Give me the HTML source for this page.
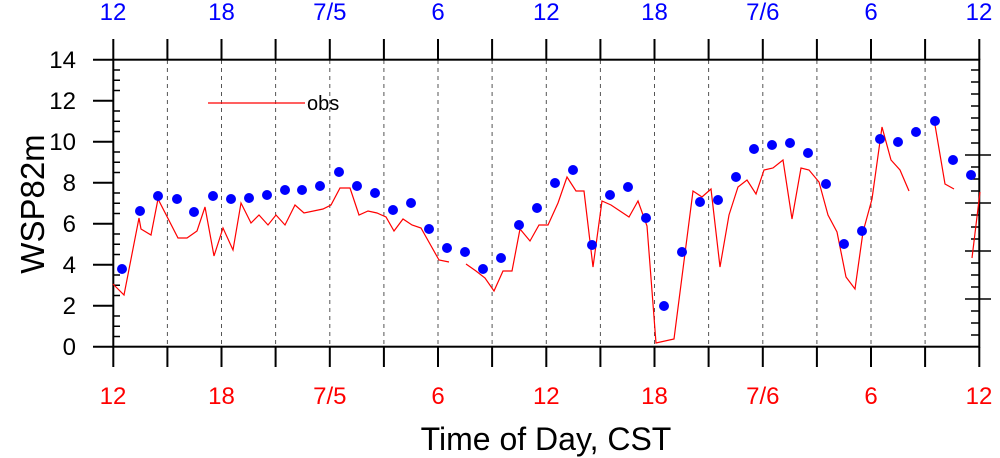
<!DOCTYPE html>
<html><head><style>body{margin:0;background:#fff}svg{display:block}</style></head><body>
<svg width="1000" height="458" xmlns="http://www.w3.org/2000/svg" font-family="Liberation Sans, sans-serif">
<rect width="1000" height="458" fill="#fff"/>
<g id="grid" stroke="#555" stroke-width="1" stroke-dasharray="4,4">
<line x1="167.4" y1="60" x2="167.4" y2="347"/><line x1="221.5" y1="60" x2="221.5" y2="347"/><line x1="275.6" y1="60" x2="275.6" y2="347"/><line x1="329.8" y1="60" x2="329.8" y2="347"/><line x1="383.9" y1="60" x2="383.9" y2="347"/><line x1="438" y1="60" x2="438" y2="347"/><line x1="492.1" y1="60" x2="492.1" y2="347"/><line x1="546.3" y1="60" x2="546.3" y2="347"/><line x1="600.4" y1="60" x2="600.4" y2="347"/><line x1="654.5" y1="60" x2="654.5" y2="347"/><line x1="708.6" y1="60" x2="708.6" y2="347"/><line x1="762.8" y1="60" x2="762.8" y2="347"/><line x1="816.9" y1="60" x2="816.9" y2="347"/><line x1="871" y1="60" x2="871" y2="347"/><line x1="925.1" y1="60" x2="925.1" y2="347"/>
</g>
<g stroke="#000" stroke-width="2">
<path d="M113.3,347V367M167.4,347V367M221.5,347V367M275.6,347V367M329.8,347V367M383.9,347V367M438,347V367M492.1,347V367M546.3,347V367M600.4,347V367M654.5,347V367M708.6,347V367M762.8,347V367M816.9,347V367M871,347V367M925.1,347V367M979.3,347V367"/>
<path d="M113.3,60V39M167.4,60V39M221.5,60V39M275.6,60V39M329.8,60V39M383.9,60V39M438,60V39M492.1,60V39M546.3,60V39M600.4,60V39M654.5,60V39M708.6,60V39M762.8,60V39M816.9,60V39M871,60V39M925.1,60V39M979.3,60V39"/>
<path d="M113,346.7h-20M113,305.7h-20M113,264.7h-20M113,223.7h-20M113,182.7h-20M113,141.7h-20M113,100.7h-20M113,59.7h-20"/>
</g>
<g stroke="#000" stroke-width="1.5">
<path d="M113,336.5h7M113,326.2h7M113,316h7M113,295.5h7M113,285.2h7M113,275h7M113,254.5h7M113,244.2h7M113,234h7M113,213.5h7M113,203.2h7M113,193h7M113,172.5h7M113,162.2h7M113,152h7M113,131.5h7M113,121.2h7M113,111h7M113,90.5h7M113,80.2h7M113,70h7"/>
<path d="M979,70h-8M979,82h-8M979,94h-8M979,106h-8M979,118h-8M979,130h-8M979,143h-8M979,167h-8M979,179h-8M979,191h-8M979,215h-8M979,227h-8M979,239h-8M979,263h-8M979,275h-8M979,287h-8M979,311h-8M979,323h-8M979,335h-8"/>
<path d="M979,155h-14M979,203h-14M979,251h-14M979,299h-14M979,155h12M979,203h12M979,251h12M979,299h12"/>
</g>
<rect x="113.3" y="59.7" width="866" height="287" fill="none" stroke="#000" stroke-width="2"/>
<g fill="none" stroke="#f00" stroke-width="1.2">
<polyline points="113,284 124,295 139,218 141,229 151,235 158,199 178,238 187,238 197,231 205,207 214,256 223,228 233,250 241,203 251,223 259,215 268,225 276,215 285,225 295,205 304,213 323,209 331,205 340,188 350,188 359,215 368,211 377,213 386,217 394,231 403,219 412,225 421,228 439,260 449,262"/>
<polyline points="466,264 476,271 485,278 494,291 503,271 512,271 520,229 530,241 539,225 548,225 558,203 567,177 576,191 584,191 593,267 602,201 611,205 629,217 638,201 647,226 656,343 674,339 693,191 702,197 711,189 720,267 729,215 738,187 747,180 756,194 764,170 773,168 783,160 792,219 801,168 809,170 819,182 828,215 837,232 846,277 855,289 863,232 872,199 882,127 891,160 900,170 909,191"/>
<polyline points="935,125 945,184 954,189"/>
<polyline points="972,258 980,192"/>
<line x1="208" y1="103" x2="305" y2="103"/>
</g>
<g fill="#0000ff">
<circle cx="122" cy="269" r="5"/><circle cx="140" cy="211" r="5"/><circle cx="158" cy="196" r="5"/><circle cx="177" cy="199" r="5"/><circle cx="194" cy="212" r="5"/><circle cx="213" cy="196" r="5"/><circle cx="231" cy="199" r="5"/><circle cx="249" cy="198" r="5"/><circle cx="267" cy="195" r="5"/><circle cx="285" cy="190" r="5"/><circle cx="302" cy="190" r="5"/><circle cx="320" cy="186" r="5"/><circle cx="339" cy="172" r="5"/><circle cx="357" cy="186" r="5"/><circle cx="375" cy="193" r="5"/><circle cx="393" cy="210" r="5"/><circle cx="411" cy="203" r="5"/><circle cx="429" cy="229" r="5"/><circle cx="447" cy="248" r="5"/><circle cx="465" cy="252" r="5"/><circle cx="483" cy="269" r="5"/><circle cx="501" cy="258" r="5"/><circle cx="519" cy="225" r="5"/><circle cx="537" cy="208" r="5"/><circle cx="555" cy="183" r="5"/><circle cx="573" cy="170" r="5"/><circle cx="592" cy="245" r="5"/><circle cx="610" cy="195" r="5"/><circle cx="628" cy="187" r="5"/><circle cx="646" cy="218" r="5"/><circle cx="664" cy="306" r="5"/><circle cx="682" cy="252" r="5"/><circle cx="700" cy="202" r="5"/><circle cx="718" cy="200" r="5"/><circle cx="736" cy="177" r="5"/><circle cx="754" cy="149" r="5"/><circle cx="772" cy="145" r="5"/><circle cx="790" cy="143" r="5"/><circle cx="808" cy="153" r="5"/><circle cx="826" cy="184" r="5"/><circle cx="844" cy="244" r="5"/><circle cx="862" cy="231" r="5"/><circle cx="880" cy="139" r="5"/><circle cx="898" cy="142" r="5"/><circle cx="916" cy="132" r="5"/><circle cx="935" cy="121" r="5"/><circle cx="953" cy="160" r="5"/><circle cx="971" cy="175" r="5"/>
</g>
<text x="307" y="110" font-size="20">obs</text>
<g font-size="24" text-anchor="end">
<text x="76" y="355">0</text><text x="76" y="314">2</text><text x="76" y="273">4</text><text x="76" y="232">6</text><text x="76" y="191">8</text><text x="76" y="150">10</text><text x="76" y="109">12</text><text x="76" y="68">14</text>
</g>
<g font-size="24" text-anchor="middle" fill="#0000ff">
<text x="113" y="20">12</text><text x="221.5" y="20">18</text><text x="329.8" y="20">7/5</text><text x="438" y="20">6</text><text x="546.3" y="20">12</text><text x="654.5" y="20">18</text><text x="762.8" y="20">7/6</text><text x="871" y="20">6</text><text x="979" y="20">12</text>
</g>
<g font-size="24" text-anchor="middle" fill="#ff0000">
<text x="113" y="404">12</text><text x="221.5" y="404">18</text><text x="329.8" y="404">7/5</text><text x="438" y="404">6</text><text x="546.3" y="404">12</text><text x="654.5" y="404">18</text><text x="762.8" y="404">7/6</text><text x="871" y="404">6</text><text x="979" y="404">12</text>
</g>
<text x="546" y="450" font-size="32" text-anchor="middle">Time of Day, CST</text>
<text transform="translate(44,204) rotate(-90)" font-size="33" text-anchor="middle">WSP82m</text>
</svg>
</body></html>
